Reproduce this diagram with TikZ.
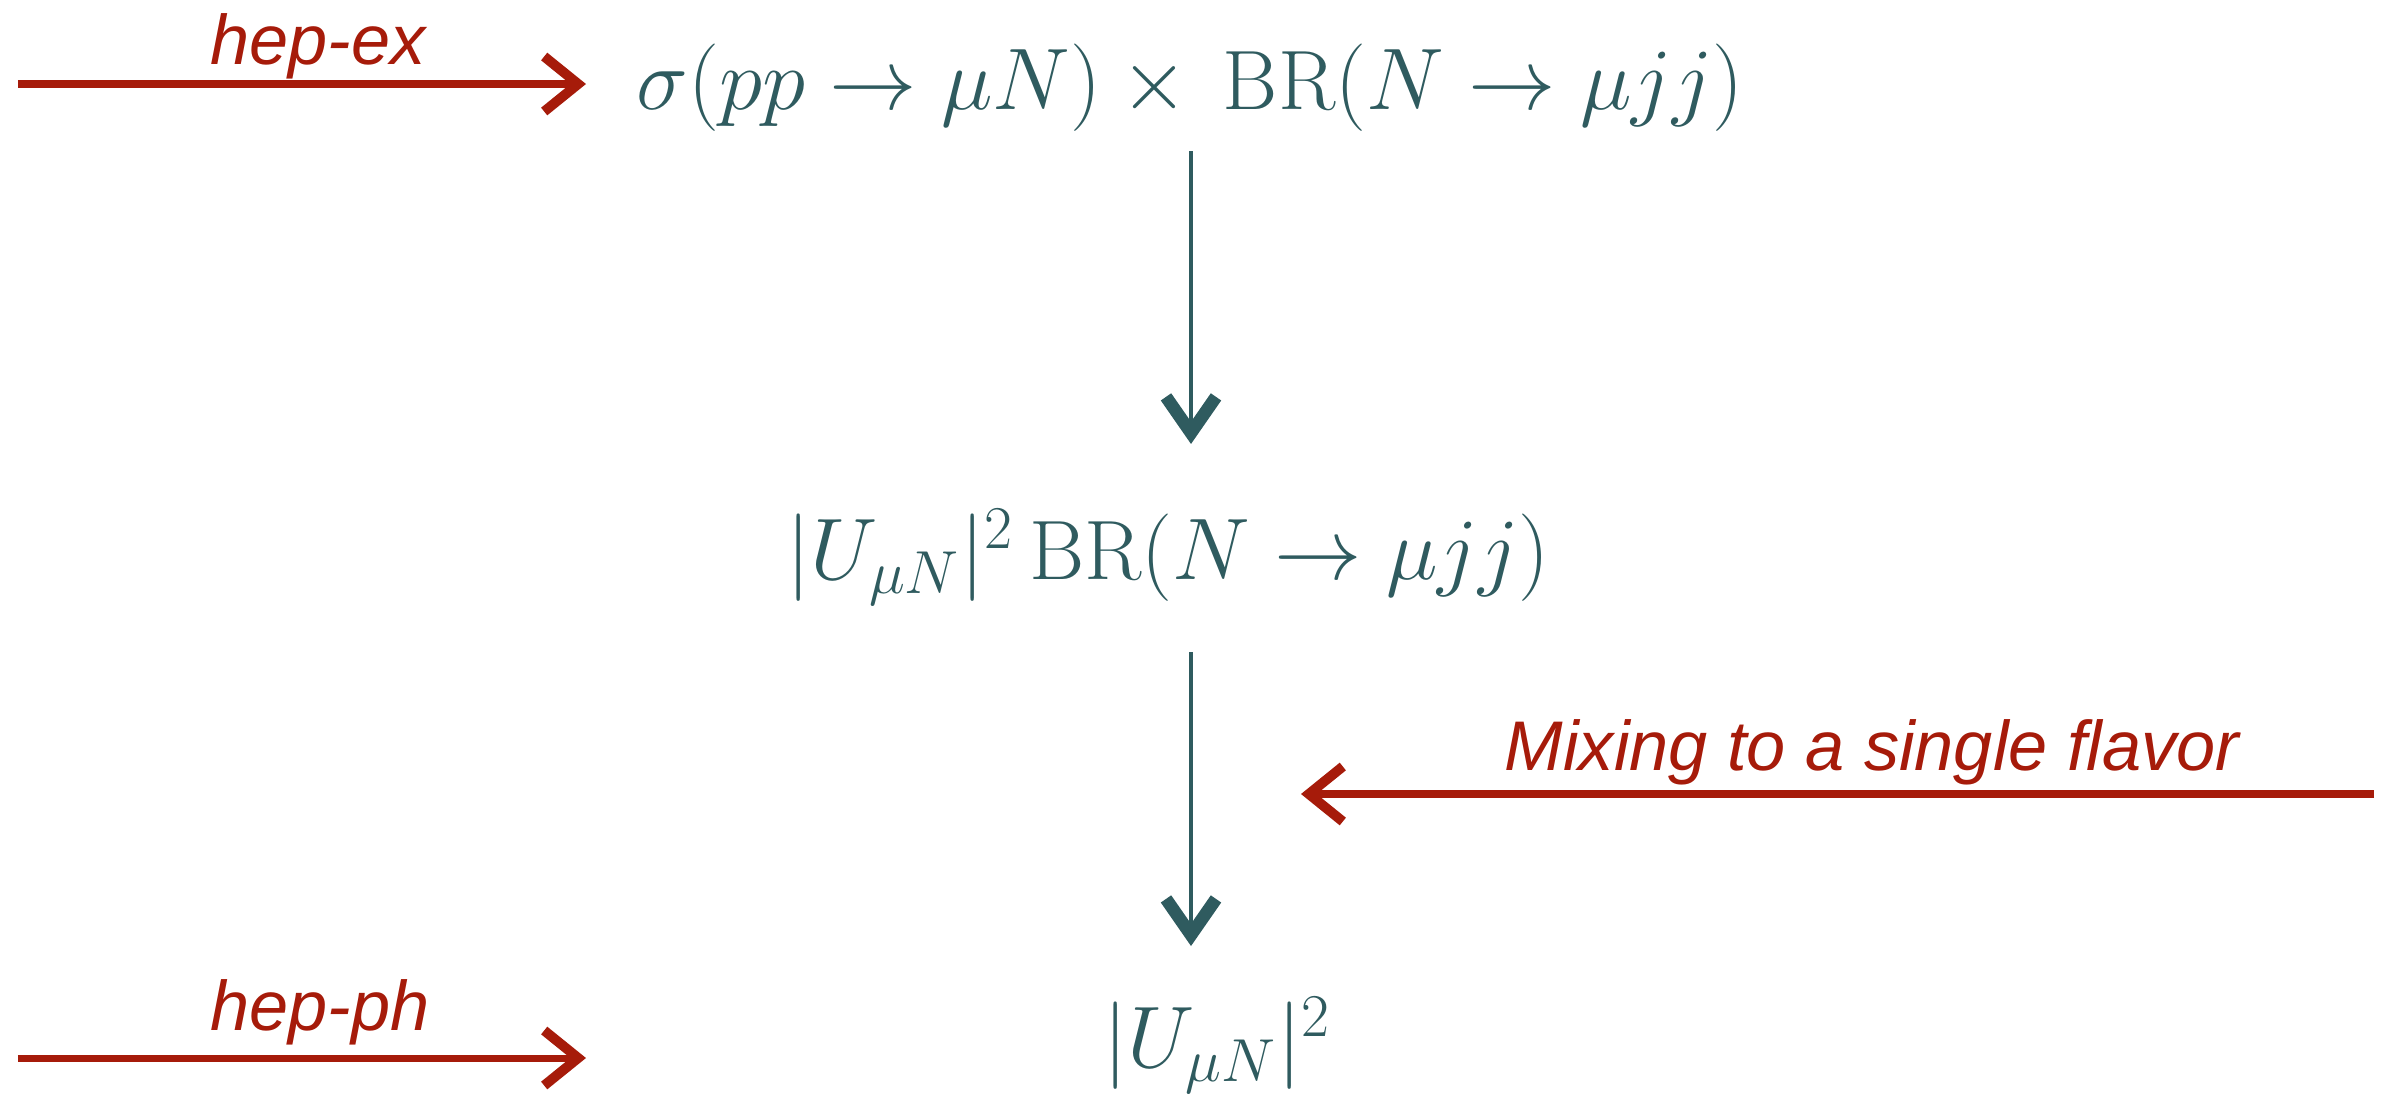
\documentclass[tikz,border=0pt]{standalone}
\usepackage{fontspec}
\setsansfont{Liberation Sans}
\usepackage{xcolor}
\usetikzlibrary{arrows.meta}
\usetikzlibrary{math}
\definecolor{myred}{RGB}{166,27,10}
\definecolor{myteal}{RGB}{47,91,95}

\tikzset{
formula/.style={color=myteal, font=\fontsize{24}{28}\selectfont},
remark/.style={color=myred, font=\sffamily\itshape\fontsize{20}{24}\selectfont},
redarrow/.style={color=myred, line width=2pt, -{Straight Barb[length=3.4mm,width=5.5mm,line width=2.8pt]}},
tealarrow/.style={color=myteal, line width=1.3pt, -{Straight Barb[length=3.6mm,width=5mm,line width=3.6pt]}},
}

\begin{document}
\begin{tikzpicture}
\tikzmath{
\xa=11.91;
\yex=-0.84;
\yph=-10.58;
\ymx=-7.94;
}
\useasboundingbox (0,0) rectangle (23.86,-11.05);
\coordinate (axis) at (\xa,0);

%formulas
\node[formula] (sig) at (11.90,-0.88) {$\sigma(pp\to\mu N)\times\,\mathrm{BR}(N\to\mu jj)$};
\node[formula] (brn) at (11.68,-5.57) {$|U_{\mu N}|^2\,\mathrm{BR}(N\to\mu jj)$};
\node[formula] (umix) at (12.17,-10.45) {$|U_{\mu N}|^2$};

%down arrows
\draw[tealarrow] ([yshift=-2pt]sig.south -| axis) -- ([yshift=15pt]brn.north -| axis);
\draw[tealarrow] ([yshift=-10pt]brn.south -| axis) -- ([yshift=11pt]umix.north -| axis);

%side arrows
\coordinate (exA) at (0.18,\yex);
\coordinate (exB) at (5.86,\yex);
\coordinate (phA) at (0.18,\yph);
\coordinate (phB) at (5.86,\yph);
\coordinate (mxA) at (23.74,\ymx);
\coordinate (mxB) at (13.01,\ymx);
\draw[redarrow] (exA) -- (exB);
\draw[redarrow] (phA) -- (phB);
\draw[redarrow] (mxA) -- (mxB);

\node[remark] (hepex) at (3.18,-0.46) {hep-ex};
\node[remark] (hepph) at (3.20,-10.12) {hep-ph};
\node[remark] (mixlab) at (18.72,-7.52) {Mixing to a single flavor};
\end{tikzpicture}
\end{document}
